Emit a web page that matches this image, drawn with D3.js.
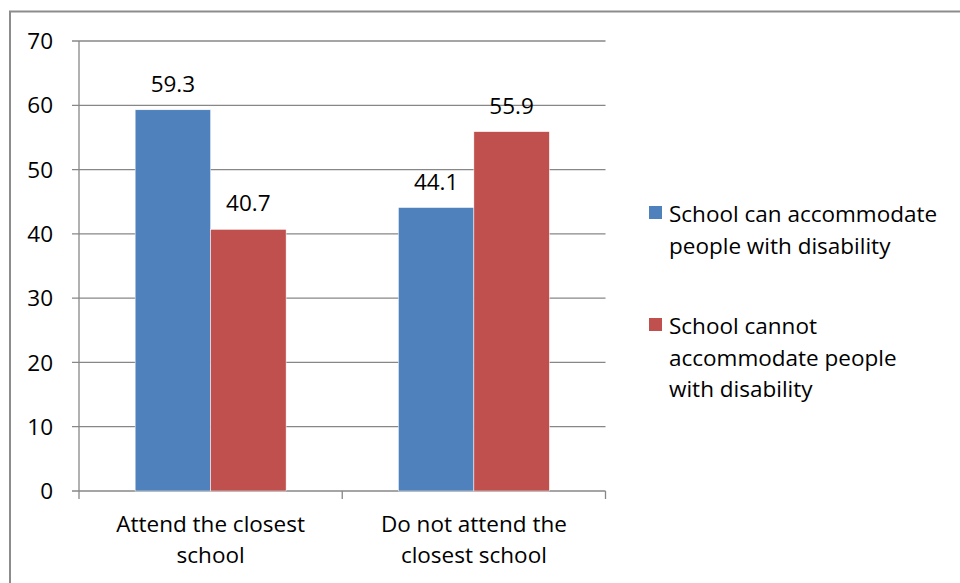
<!DOCTYPE html>
<html><head><meta charset="utf-8">
<script src="https://cdn.jsdelivr.net/npm/d3@7"></script>
<style>body{margin:0;background:#fff}svg{display:block}text{font-family:"Open Sans",sans-serif;fill:#000}</style>
</head><body><svg id="c" width="960" height="583"></svg>
<script>
const categories = [["Attend the closest","school"],["Do not attend the","closest school"]];
const seriesNames = [["School can accommodate","people with disability"],["School cannot","accommodate people","with disability"]];
const seriesColors = ["#4f81bd","#c0504d"];
const canValues = [59.3, 44.1];
const cannotValues = [40.7, 55.9];
const yTicks = [0,10,20,30,40,50,60,70];

const FS = 22.5;
const svg = d3.select("#c");
svg.append("rect").attr("x",10).attr("y",11.5).attr("width",960).attr("height",600)
  .attr("fill","none").attr("stroke","#8c8c8c").attr("stroke-width",2);

const L=79, R=605.5, T=41, B=491;
const x0 = d3.scaleBand().domain([0,1]).range([L,R]).paddingInner(0).paddingOuter(0);
const x1 = d3.scaleBand().domain([0,1]).range([0,x0.bandwidth()]).paddingInner(0).paddingOuter(0.744);
const y = d3.scaleLinear().domain([0,70]).range([B,T]);

const g = svg.append("g");
g.selectAll("line.grid").data(yTicks).join("line")
  .attr("x1",L-7).attr("x2",R).attr("y1",d=>y(d)).attr("y2",d=>y(d))
  .attr("stroke","#878787").attr("stroke-width",1.3);
g.append("line").attr("x1",L).attr("x2",L).attr("y1",T).attr("y2",B).attr("stroke","#878787").attr("stroke-width",1.3);
g.selectAll("text.yl").data(yTicks).join("text")
  .attr("x",L-26).attr("y",d=>y(d)).attr("dy","0.36em").attr("text-anchor","end")
  .attr("font-size",FS).text(d=>d);
const xt = [L, L+x0.bandwidth(), R];
g.selectAll("line.xt").data(xt).join("line")
  .attr("x1",d=>d).attr("x2",d=>d).attr("y1",B).attr("y2",B+8).attr("stroke","#878787").attr("stroke-width",1.3);

const data = [canValues, cannotValues];
const bars = g.append("g");
[0,1].forEach(ci=>{
  [0,1].forEach(si=>{
    const v = data[si][ci];
    const bx = x0(ci)+x1(si);
    bars.append("rect").attr("x",bx).attr("y",y(v)).attr("width",x1.bandwidth()).attr("height",B-y(v))
      .attr("fill",seriesColors[si]).attr("stroke","#fff").attr("stroke-width",0.5);
    bars.append("text").attr("x",bx+x1.bandwidth()/2).attr("y",y(v)-18).attr("text-anchor","middle")
      .attr("font-size",FS).text(v.toFixed(1));
  });
  categories[ci].forEach((ln,li)=>{
    g.append("text").attr("x",x0(ci)+x0.bandwidth()/2).attr("y",532+li*31).attr("text-anchor","middle")
      .attr("font-size",FS).text(ln);
  });
});

const legY = [206, 318];
seriesNames.forEach((lines,si)=>{
  svg.append("rect").attr("x",649).attr("y",legY[si]).attr("width",13).attr("height",13).attr("fill",seriesColors[si]);
  lines.forEach((ln,li)=>{
    svg.append("text").attr("x",669).attr("y",legY[si]+16+li*31.5).attr("font-size",FS).text(ln);
  });
});
</script></body></html>
